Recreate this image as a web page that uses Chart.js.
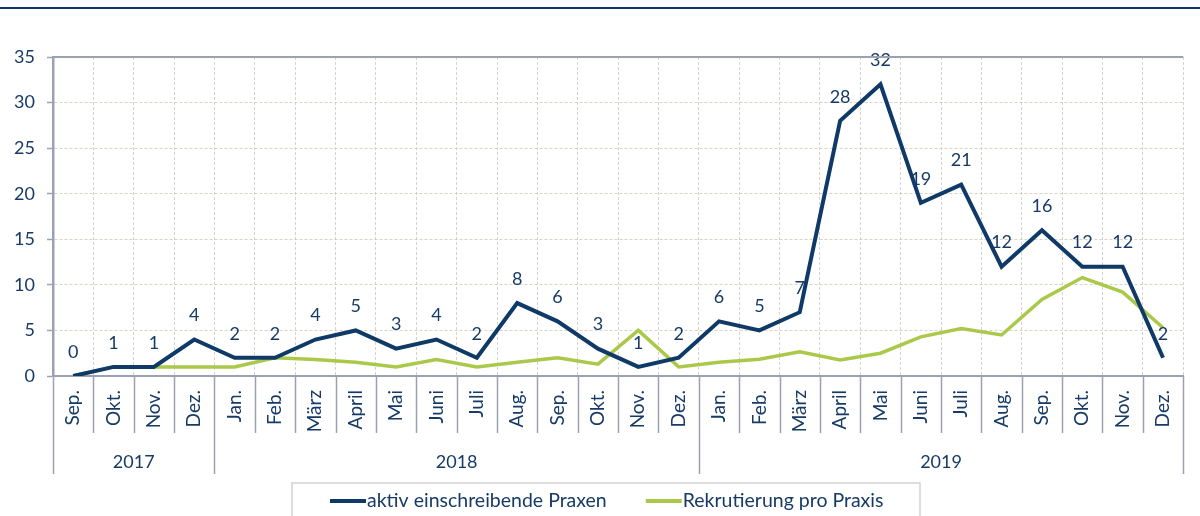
<!DOCTYPE html>
<html>
<head>
<meta charset="utf-8">
<script src="https://cdn.jsdelivr.net/npm/chart.js@4/dist/chart.umd.min.js"></script>
<style>
html,body{margin:0;padding:0;background:#fff}
#chartDiv{position:relative;width:1200px;height:516px}
</style>
</head>
<body>
<div id="chartDiv"><canvas id="chartArea"></canvas></div>
<script>
// months Sep. 2017 - Dez. 2019
var months = ['Sep.','Okt.','Nov.','Dez.',
  'Jan.','Feb.','März','April','Mai','Juni','Juli','Aug.','Sep.','Okt.','Nov.','Dez.',
  'Jan.','Feb.','März','April','Mai','Juni','Juli','Aug.','Sep.','Okt.','Nov.','Dez.']
var years = ['2017','2018','2019']
var monthsPerYear = [4,12,12]
var aktivPraxen = [0,1,1,4, 2,2,4,5,3,4,2,8,6,3,1,2, 6,5,7,28,32,19,21,12,16,12,12,2]
var rekrutierung = [0,1,1,1, 1,2,1.8,1.5,1.0,1.8,1.0,1.5,2.0,1.3,5.0,1.0, 1.5,1.85,2.65,1.75,2.5,4.3,5.2,4.5,8.4,10.8,9.2,5.3]
var seriesNames = ['aktiv einschreibende Praxen','Rekrutierung pro Praxis']
var yMax = 35
var yStep = 5

var navy = '#173b66'
var blue = '#0f3a68'
var green = '#aac94b'
var axisGrey = '#9ba1b1'
var gridCol = 'rgba(200,192,178,0.7)'
var fontName = 'Lato, "Open Sans", sans-serif'

var decor = {
  id: 'decor',
  beforeDraw: function(chart){
    var ctx = chart.ctx
    ctx.save()
    ctx.fillStyle = '#0e3a63'
    ctx.fillRect(0, 7, chart.width, 2)
    ctx.restore()
  },
  afterDatasetsDraw: function(chart){
    var ctx = chart.ctx
    var meta = chart.getDatasetMeta(0)
    ctx.save()
    ctx.fillStyle = navy
    ctx.font = '18px ' + fontName
    ctx.textAlign = 'center'
    ctx.textBaseline = 'middle'
    meta.data.forEach(function(pt, i){
      ctx.fillText(String(aktivPraxen[i]), pt.x, pt.y - 24)
    })
    ctx.restore()
  },
  afterDraw: function(chart){
    var ctx = chart.ctx
    var x = chart.scales.x
    var area = chart.chartArea
    var step = x.getPixelForValue(1) - x.getPixelForValue(0)
    ctx.save()
    // top frame line
    ctx.strokeStyle = axisGrey
    ctx.lineWidth = 2
    ctx.beginPath()
    ctx.moveTo(area.left, area.top)
    ctx.lineTo(area.right, area.top)
    ctx.stroke()

    // separators under the axis
    var yearEdges = [0]
    monthsPerYear.forEach(function(n){ yearEdges.push(yearEdges[yearEdges.length-1] + n) })
    ctx.lineWidth = 1.5
    for(var i = 0; i <= months.length; i++){
      var px = Math.round(x.getPixelForValue(i) - step/2) + 0.5
      var bottom = yearEdges.indexOf(i) >= 0 ? area.bottom + 98 : area.bottom + 57
      ctx.beginPath()
      ctx.moveTo(px, area.bottom)
      ctx.lineTo(px, bottom)
      ctx.stroke()
    }

    // year row
    ctx.fillStyle = navy
    ctx.font = '18px ' + fontName
    ctx.textAlign = 'center'
    ctx.textBaseline = 'middle'
    for(var j = 0; j < years.length; j++){
      var a = x.getPixelForValue(yearEdges[j]) - step/2
      var b = x.getPixelForValue(yearEdges[j+1]) - step/2
      ctx.fillText(years[j], (a+b)/2, area.bottom + 86)
    }

    // legend
    var boxLeft = 292, boxRight = 920, boxTop = 483
    ctx.strokeStyle = '#d2d2d2'
    ctx.lineWidth = 1.5
    ctx.strokeRect(boxLeft, boxTop, boxRight - boxLeft, 40)
    ctx.font = '19.5px ' + fontName
    var lx = boxLeft + 38
    var ly = 501
    chart.data.datasets.forEach(function(ds){
      ctx.strokeStyle = ds.borderColor
      ctx.lineWidth = 4
      ctx.beginPath()
      ctx.moveTo(lx, ly)
      ctx.lineTo(lx + 36, ly)
      ctx.stroke()
      ctx.textAlign = 'left'
      ctx.fillText(ds.label, lx + 37, ly)
      lx += 37 + ctx.measureText(ds.label).width + 39
    })
    ctx.restore()
  }
}

var ctx = document.getElementById('chartArea').getContext('2d')
var myLineChart = new Chart(ctx, {
  type: 'line',
  data: {
    labels: months,
    datasets: [
      {
        label: seriesNames[0],
        data: aktivPraxen,
        borderColor: blue,
        borderWidth: 4,
        pointRadius: 0,
        tension: 0
      },
      {
        label: seriesNames[1],
        data: rekrutierung,
        borderColor: green,
        borderWidth: 3.5,
        pointRadius: 0,
        tension: 0
      }
    ]
  },
  options: {
    responsive: true,
    maintainAspectRatio: false,
    animation: false,
    layout: { padding: { top: 57, right: 9, left: 0, bottom: 0 } },
    plugins: {
      legend: { display: false },
      tooltip: { enabled: false }
    },
    scales: {
      x: {
        offset: true,
        grid: {
          offset: true,
          color: gridCol,
          lineWidth: 1,
          drawTicks: false
        },
        border: { color: axisGrey, width: 2, dash: [3,2] },
        ticks: {
          autoSkip: false,
          minRotation: 90,
          maxRotation: 90,
          padding: 14,
          color: navy,
          font: { family: fontName, size: 19 }
        },
        afterFit: function(scale){ scale.height = 140 }
      },
      y: {
        min: 0,
        max: yMax,
        ticks: {
          stepSize: yStep,
          padding: 12,
          color: navy,
          font: { family: fontName, size: 18 }
        },
        grid: {
          color: gridCol,
          lineWidth: 1,
          tickLength: 6,
          tickColor: axisGrey,
          tickWidth: 1.5,
          tickBorderDash: []
        },
        border: { color: axisGrey, width: 2.5, dash: [3,2] },
        afterFit: function(scale){ scale.width = 53 }
      }
    }
  },
  plugins: [decor]
})
</script>
</body>
</html>
